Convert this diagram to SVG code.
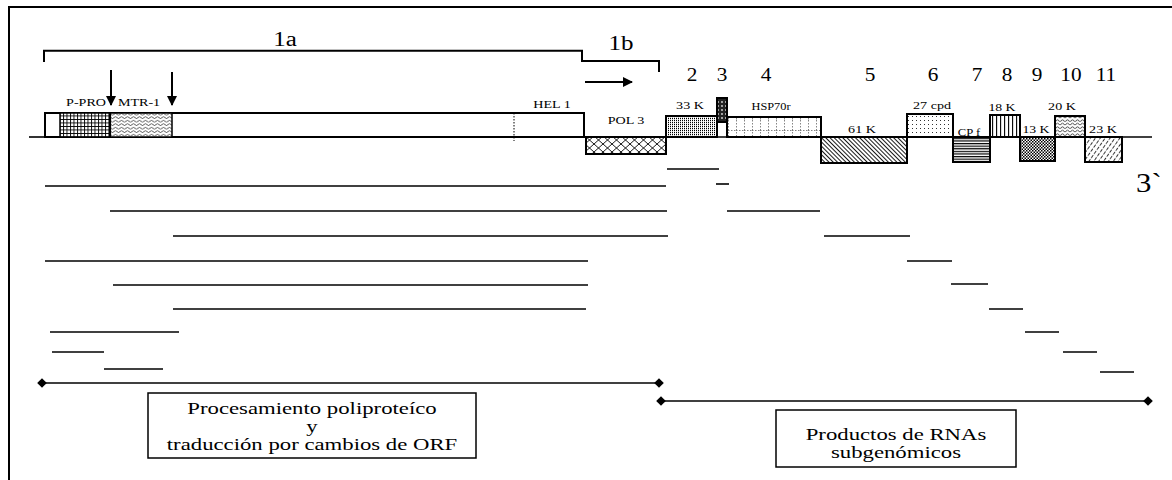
<svg xmlns="http://www.w3.org/2000/svg" width="1172" height="480" viewBox="0 0 1172 480">
<style>
.t{font-family:"Liberation Serif","Times New Roman",serif;fill:#000}
.lbl{font-size:11px;text-anchor:middle}
.num{font-size:19px;text-anchor:middle}
.box{stroke:#000;stroke-width:2}
.ln{stroke:#000;stroke-width:2;fill:none}
.prod{stroke:#000;stroke-width:1.6}
.txt{font-size:17.5px;text-anchor:middle}
</style>
<defs>
<pattern id="grid" width="3.5" height="3.5" patternUnits="userSpaceOnUse"><rect width="3.5" height="3.5" fill="#fff"/><path d="M0.5,0 V3.5 M0,0.5 H3.5" stroke="#000" stroke-width="0.9"/></pattern>
<pattern id="wave" width="6" height="3.5" patternUnits="userSpaceOnUse"><rect width="6" height="3.5" fill="#fff"/><path d="M0,2.2 Q1.5,0.4 3,2.2 T6,2.2" fill="none" stroke="#000" stroke-width="0.7"/></pattern>
<pattern id="xh" width="9" height="8" patternUnits="userSpaceOnUse"><rect width="9" height="8" fill="#fff"/><path d="M0,0 L9,8 M9,0 L0,8" stroke="#000" stroke-width="0.9"/></pattern>
<pattern id="stip" width="2" height="2" patternUnits="userSpaceOnUse"><rect width="2" height="2" fill="#fff"/><rect width="1" height="1.2" fill="#000"/></pattern>
<pattern id="dark" width="4" height="4" patternUnits="userSpaceOnUse"><rect width="4" height="4" fill="#222"/><circle cx="2" cy="2" r="0.9" fill="#ddd"/></pattern>
<pattern id="hsp" width="8" height="20" patternUnits="userSpaceOnUse"><rect width="8" height="20" fill="#fff"/><path d="M0.5,0 V20" stroke="#666" stroke-width="0.8" stroke-dasharray="1.5,1.5"/><path d="M0,10.5 H8" stroke="#666" stroke-width="0.8" stroke-dasharray="1.5,1.5"/></pattern>
<pattern id="bs" width="3" height="3" patternUnits="userSpaceOnUse" patternTransform="rotate(-45)"><rect width="3" height="3" fill="#fff"/><line x1="0.5" y1="0" x2="0.5" y2="3" stroke="#000" stroke-width="0.9"/></pattern>
<pattern id="dots" width="4" height="4" patternUnits="userSpaceOnUse"><rect width="4" height="4" fill="#fff"/><rect width="0.9" height="0.9" fill="#000"/></pattern>
<pattern id="hz" width="4" height="2.6" patternUnits="userSpaceOnUse"><rect width="4" height="2.6" fill="#fff"/><line x1="0" y1="0.6" x2="4" y2="0.6" stroke="#000" stroke-width="1.2"/></pattern>
<pattern id="vt" width="4" height="4" patternUnits="userSpaceOnUse"><rect width="4" height="4" fill="#fff"/><line x1="0.6" y1="0" x2="0.6" y2="4" stroke="#000" stroke-width="1.1"/></pattern>
<pattern id="chk" width="3" height="3" patternUnits="userSpaceOnUse"><rect width="3" height="3" fill="#fff"/><rect width="1.5" height="1.5" fill="#000"/><rect x="1.5" y="1.5" width="1.5" height="1.5" fill="#000"/></pattern>
<pattern id="zz" width="5" height="3.5" patternUnits="userSpaceOnUse"><rect width="5" height="3.5" fill="#fff"/><path d="M0,2.8 L2.5,0.6 L5,2.8" fill="none" stroke="#000" stroke-width="0.8"/></pattern>
<pattern id="fs" width="4" height="5" patternUnits="userSpaceOnUse" patternTransform="rotate(35)"><rect width="4" height="5" fill="#fff"/><line x1="0.5" y1="0" x2="0.5" y2="3.5" stroke="#000" stroke-width="0.8"/></pattern>
<marker id="ah" viewBox="0 0 10 10" refX="9" refY="5" markerWidth="5" markerHeight="5" orient="auto"><path d="M0,0 L10,5 L0,10 Z" fill="#000"/></marker>
<marker id="dm" viewBox="0 0 10 10" refX="5" refY="5" markerWidth="6" markerHeight="6" orient="auto"><path d="M0,5 L5,0 L10,5 L5,10 Z" fill="#000"/></marker>
</defs>

<rect x="9" y="7" width="1172" height="490" fill="#fff" stroke="#000" stroke-width="2"/>

<g id="brackets">
<path class="ln" d="M44,62 V50.7 H582 V61 H659 V72"/>
<text class="t" transform="translate(285,46) scale(1.25,1)" font-size="20" text-anchor="middle">1a</text>
<text class="t" transform="translate(621,50) scale(1.25,1)" font-size="20" text-anchor="middle">1b</text>
<line class="ln" x1="585" y1="82" x2="632" y2="82" marker-end="url(#ah)"/>
</g>

<g id="numbers" class="t num">
<text transform="translate(692,81) scale(1.12,1)">2</text>
<text transform="translate(722,81) scale(1.12,1)">3</text>
<text transform="translate(766,81) scale(1.12,1)">4</text>
<text transform="translate(870,81) scale(1.12,1)">5</text>
<text transform="translate(933,81) scale(1.12,1)">6</text>
<text transform="translate(977,81) scale(1.12,1)">7</text>
<text transform="translate(1007,81) scale(1.12,1)">8</text>
<text transform="translate(1037,81) scale(1.12,1)">9</text>
<text transform="translate(1071,81) scale(1.12,1)">10</text>
<text transform="translate(1106,81) scale(1.12,1)">11</text>
</g>

<g id="genome-line">
<line x1="29" y1="137" x2="45" y2="137" stroke="#000" stroke-width="1.6"/>
<line x1="584" y1="137" x2="1152" y2="137" stroke="#000" stroke-width="1.6"/>
</g>

<g id="orf1a">
<rect class="box" x="45" y="113" width="539" height="24" fill="#fff"/>
<rect x="60" y="113" width="50" height="24" fill="url(#grid)" stroke="#000" stroke-width="1.5"/>
<rect x="110" y="113" width="62" height="24" fill="url(#wave)" stroke="#000" stroke-width="1.5"/>
<line x1="110" y1="113" x2="110" y2="137" stroke="#000" stroke-width="2.2"/>
<line x1="514" y1="113" x2="514" y2="141" stroke="#000" stroke-width="1" stroke-dasharray="1.5,1.5"/>
<text class="t lbl" transform="translate(86,106) scale(1.28,1)">P-PRO</text>
<text class="t lbl" transform="translate(139,106) scale(1.28,1)">MTR-1</text>
<text class="t lbl" transform="translate(552,108) scale(1.28,1)">HEL 1</text>
<line class="ln" x1="111" y1="70" x2="111" y2="105" marker-end="url(#ah)"/>
<line class="ln" x1="172" y1="72" x2="172" y2="105" marker-end="url(#ah)"/>
</g>

<g id="pol3">
<rect class="box" x="586" y="137" width="80" height="17" fill="url(#xh)"/>
<text class="t lbl" transform="translate(626,124) scale(1.28,1)">POL 3</text>
</g>
<g id="k33">
<rect class="box" x="666" y="116" width="51" height="21" fill="url(#stip)"/>
<text class="t lbl" transform="translate(690,109) scale(1.28,1)">33 K</text>
</g>
<g id="orf3">
<rect class="box" x="717" y="98" width="10" height="24" fill="url(#dark)"/>
</g>
<g id="hsp70r">
<rect class="box" x="727" y="117" width="94" height="20" fill="url(#hsp)"/>
<text class="t lbl" transform="translate(771,110) scale(1.12,1)">HSP70r</text>
</g>
<g id="k61">
<rect class="box" x="821" y="137" width="86" height="26" fill="url(#bs)"/>
<text class="t lbl" transform="translate(862,133) scale(1.28,1)">61 K</text>
</g>
<g id="cpd27">
<rect class="box" x="907" y="114" width="46" height="23" fill="url(#dots)"/>
<text class="t lbl" transform="translate(932,109) scale(1.28,1)">27 cpd</text>
</g>
<g id="cpf">
<rect class="box" x="953" y="137" width="37" height="25" fill="url(#hz)"/>
<text class="t lbl" transform="translate(969,136) scale(1.15,1)" font-size="12.5">CP f</text>
</g>
<g id="k18">
<rect class="box" x="990" y="115" width="30" height="22" fill="url(#vt)"/>
<text class="t lbl" transform="translate(1002,111) scale(1.25,1)">18 K</text>
</g>
<g id="k13">
<rect class="box" x="1020" y="137" width="35" height="24" fill="url(#chk)"/>
<text class="t lbl" transform="translate(1036,133) scale(1.25,1)">13 K</text>
</g>
<g id="k20">
<rect class="box" x="1055" y="116" width="30" height="21" fill="url(#zz)"/>
<text class="t lbl" transform="translate(1062,110) scale(1.28,1)">20 K</text>
</g>
<g id="k23">
<rect class="box" x="1085" y="137" width="37" height="25" fill="url(#fs)"/>
<text class="t lbl" transform="translate(1103,133) scale(1.28,1)">23 K</text>
</g>
<text class="t" transform="translate(1136,192) scale(1.1,1)" font-size="28">3`</text>

<g id="connectors">
<line class="prod" x1="45" y1="186" x2="666" y2="186"/>
<line class="prod" x1="110" y1="211" x2="667" y2="211"/>
<line class="prod" x1="173" y1="236" x2="668" y2="236"/>
<line class="prod" x1="45" y1="261" x2="588" y2="261"/>
<line class="prod" x1="113" y1="285" x2="588" y2="285"/>
<line class="prod" x1="173" y1="309" x2="586" y2="309"/>
<line class="prod" x1="50" y1="332" x2="179" y2="332" stroke-width="2.2"/>
<line class="prod" x1="52" y1="352" x2="104" y2="352"/>
<line class="prod" x1="104" y1="369" x2="163" y2="369"/>
<line class="prod" x1="667" y1="169" x2="719" y2="169"/>
<line class="prod" x1="716" y1="184" x2="729" y2="184" stroke-width="2"/>
<line class="prod" x1="727" y1="211" x2="820" y2="211"/>
<line class="prod" x1="824" y1="236" x2="910" y2="236"/>
<line class="prod" x1="907" y1="261" x2="952" y2="261"/>
<line class="prod" x1="951" y1="284" x2="988" y2="284"/>
<line class="prod" x1="989" y1="309" x2="1023" y2="309"/>
<line class="prod" x1="1025" y1="332" x2="1059" y2="332"/>
<line class="prod" x1="1063" y1="352" x2="1097" y2="352"/>
<line class="prod" x1="1100" y1="372" x2="1134" y2="372"/>
<line class="prod" x1="42" y1="383" x2="659" y2="383" marker-start="url(#dm)" marker-end="url(#dm)"/>
<line class="prod" x1="661" y1="401" x2="1148" y2="401" marker-start="url(#dm)" marker-end="url(#dm)"/>
</g>

<g id="box-left">
<rect x="148" y="393" width="328" height="65" fill="#fff" stroke="#000" stroke-width="1.5"/>
<text class="t txt" transform="translate(312,414) scale(1.3,1)">Procesamiento poliproteíco</text>
<text class="t txt" transform="translate(312,432) scale(1.3,1)">y</text>
<text class="t txt" transform="translate(312,450) scale(1.3,1)">traducción por cambios de ORF</text>
</g>
<g id="box-right">
<rect x="776" y="410" width="240" height="57" fill="#fff" stroke="#000" stroke-width="1.5"/>
<text class="t txt" transform="translate(896,440) scale(1.3,1)">Productos de RNAs</text>
<text class="t txt" transform="translate(896,458) scale(1.3,1)">subgenómicos</text>
</g>
</svg>
